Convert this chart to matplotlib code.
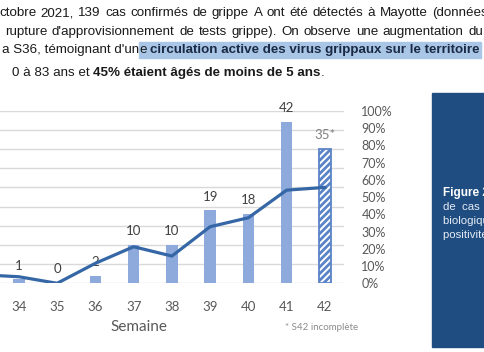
import matplotlib
matplotlib.use('Agg')
import matplotlib.pyplot as plt
from matplotlib.patches import Rectangle
import numpy as np

# chart data
weeks = [33, 34, 35, 36, 37, 38, 39, 40, 41, 42]
cases = [1, 1, 0, 2, 10, 10, 19, 18, 42, 35]
positivity = [5, 3.8, 0, 11.6, 21.2, 15.8, 32.8, 38, 54, 55.6]
case_labels = ['', '1', '0', '2', '10', '10', '19', '18', '42', '35*']
week_labels = ['', '34', '35', '36', '37', '38', '39', '40', '41', '42']
pct_ticks = [0, 10, 20, 30, 40, 50, 60, 70, 80, 90, 100]

# surrounding document text
line1 = "ctobre 2021, 139 cas confirmés de grippe A ont été détectés à Mayotte (données"
line2 = "rupture d'approvisionnement de tests grippe). On observe une augmentation du"
line3a = "a S36, témoignant d'un"
line3b = "e"
line3c = "circulation active des virus grippaux sur le territoire"
line4a = "0 à 83 ans et "
line4b = "45% étaient âgés de moins de 5 ans"
line4c = "."
box_lines = ["de  cas  de  grippe  confirmés", "biologiquement  et  taux  de", "positivité hebdomadaire"]

W, H = 485, 352
bar_col = '#8EA9DB'
hatch_col = '#5B84C8'
line_col = '#3567A6'
grey = '#595959'

plt.rcParams['hatch.linewidth'] = 2.0
fig = plt.figure(figsize=(W / 100, H / 100), dpi=100)

def fx(px):
    return px / W

def fy(py):
    return 1 - py / H

ax = fig.add_axes([fx(-38.5), fy(283.3), fx(382.5), 172.5 / H])
x = np.array(weeks)
full = x != 42
ax.bar(x[full], np.array(cases)[full], width=0.3, color=bar_col, zorder=2)
ax.bar(x[~full], np.array(cases)[~full], width=0.3, color='white',
       edgecolor=hatch_col, hatch='/////', linewidth=1.3, zorder=2)
for xi, c, lab in zip(weeks, cases, case_labels):
    if lab:
        ax.annotate(lab, (xi, c), xytext=(0, 10), textcoords='offset points',
                    ha='center', va='center', fontsize=9.5, family='Lato',
                    color='#808080' if '*' in lab else '#404040')
ax.set_xlim(32.5, 42.5)
ax.set_ylim(0, 45)
ax.set_yticks(np.arange(0, 46, 5))
ax.yaxis.grid(True, color='#D9D9D9', linewidth=1)
ax.set_yticklabels([])
ax.tick_params(left=False, bottom=False)
ax.set_xticks(weeks)
ax.set_xticklabels(week_labels, fontsize=9.5, family='Lato', color=grey)
ax.tick_params(axis='x', pad=9)
for s in ax.spines.values():
    s.set_visible(False)
ax.set_axisbelow(True)

ax2 = ax.twinx()
ax2.plot(weeks, positivity, color=line_col, linewidth=2.3, zorder=3)
ax2.set_ylim(0, 100)
ax2.set_yticks(pct_ticks)
ax2.set_yticklabels([f'{p}%' for p in pct_ticks], fontsize=9, family='Lato', color=grey)
ax2.tick_params(right=False, pad=9)
for s in ax2.spines.values():
    s.set_visible(False)

fig.text(fx(138.5), fy(326.7), 'Semaine', ha='center', va='center',
         fontsize=11, family='Lato', color=grey)
fig.text(fx(285), fy(328), '* S42 incomplète', ha='left', va='center',
         fontsize=7, family='Lato', color='#8C8C8C')

# blue figure caption box
fig.patches.append(Rectangle((fx(431.7), fy(347)), fx(60), (347 - 93) / H,
                             transform=fig.transFigure, color='#1F4D82', zorder=0))
fig.text(fx(443), fy(193), 'Figure 2 : Nombre hebdomadaire', fontsize=8.5,
         weight='bold', family='Liberation Sans', color='white', va='center')
for i, t in enumerate(box_lines):
    fig.text(fx(443), fy(207 + 14 * i), t, fontsize=8.2, family='Liberation Sans',
             color='#E6ECF4', va='center')

# paragraph above the chart
renderer = fig.canvas.get_renderer()
FS = 9.6

def put(text, xpx, ypx, bold=False, color='#1A1A1A'):
    t = fig.text(fx(xpx), fy(ypx), text, fontsize=FS, family='Liberation Sans',
                 weight='bold' if bold else 'normal', color=color, va='center')
    return t, t.get_window_extent(renderer).width

def justify(words, x0, ypx, x_last):
    widths = []
    objs = []
    for w in words:
        t, wd = put(w, 0, ypx)
        objs.append(t)
        widths.append(wd)
    gap = (x_last - x0 - sum(widths[:-1])) / (len(words) - 1)
    xc = x0
    for t, wd in zip(objs, widths):
        t.set_x(fx(xc))
        xc += wd + gap

justify(line1.split(' '), -1, 13, 432)
tmp, wdu = put('du', 0, 0)
tmp.remove()
justify(line2.split(' '), 5, 32, 483 - wdu)

t, w = put(line3a, 2, 50)
xe = 2 + w
t, w2 = put(line3b, xe, 50)
hl_start = xe
xe += w2 + 3
t, w3 = put(line3c, xe, 50, bold=True, color='#1B2A44')
xe += w3
fig.patches.append(Rectangle((fx(hl_start), fy(58.3)), fx(xe - hl_start + 2), 16.6 / H,
                             transform=fig.transFigure, color='#A9C6E6', zorder=0))

t, w = put(line4a, 12, 73)
xe = 12 + w
t, w = put(line4b, xe, 73, bold=True)
xe += w
put(line4c, xe, 73)

fig.savefig('out.png', dpi=100)
